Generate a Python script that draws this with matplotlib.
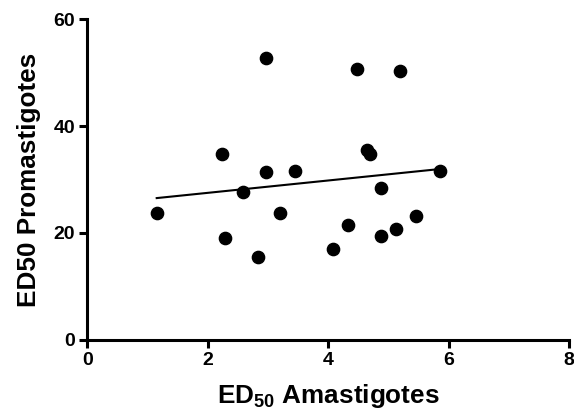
import numpy as np
import matplotlib
matplotlib.use("Agg")
import matplotlib.pyplot as plt

plt.rcParams["font.family"] = ["Liberation Sans", "DejaVu Sans"]
plt.rcParams["font.weight"] = "bold"
plt.rcParams["mathtext.fontset"] = "custom"
plt.rcParams["mathtext.rm"] = "Liberation Sans:bold"
plt.rcParams["mathtext.bf"] = "Liberation Sans:bold"

# ED50 values
amastigotes = [1.15, 2.24, 2.29, 2.59, 2.97, 2.97, 2.83, 3.20, 3.44, 4.48,
               5.20, 4.65, 4.70, 5.86, 4.87, 4.33, 4.08, 4.88, 5.13, 5.45]
promastigotes = [23.7, 34.7, 19.1, 27.6, 52.7, 31.4, 15.6, 23.8, 31.5, 50.7,
                 50.3, 35.5, 34.8, 31.5, 28.4, 21.5, 17.0, 19.5, 20.7, 23.2]

x = np.array(amastigotes)
y = np.array(promastigotes)
slope, intercept = np.polyfit(x, y, 1)
xfit = np.array([x.min(), x.max()])

fig = plt.figure(figsize=(5.74, 4.17), dpi=100)
ax = fig.add_axes([0.1524, 0.1847, 0.8389, 0.7697])

ax.scatter(x, y, s=78, color="black", zorder=3)
ax.plot(xfit, slope * xfit + intercept, color="black", linewidth=1.5)

ax.set_xlim(0, 8)
ax.set_ylim(0, 60)
ax.set_xticks([0, 2, 4, 6, 8])
ax.set_yticks([0, 20, 40, 60])

for side in ["top", "right"]:
    ax.spines[side].set_visible(False)
for side in ["left", "bottom"]:
    ax.spines[side].set_linewidth(2.2)

ax.tick_params(axis="both", direction="out", length=6, width=2.2,
               labelsize=14, pad=3)
for lbl in ax.get_xticklabels() + ax.get_yticklabels():
    lbl.set_fontweight("bold")

ax.set_xlabel("ED$_{50}$ Amastigotes", fontsize=18.8, fontweight="bold", labelpad=9)
ax.set_ylabel("ED50 Promastigotes", fontsize=18.8, fontweight="bold", labelpad=9)

fig.savefig("out.png", dpi=100)
